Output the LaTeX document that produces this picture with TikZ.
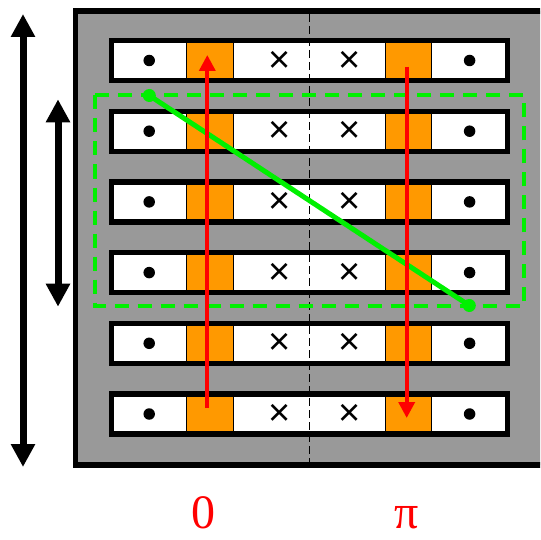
\documentclass[tikz,border=0pt]{standalone}
\usepackage{fontspec}
\newfontfamily\labelfont{Liberation Serif}
\newfontfamily\crossfont{Liberation Sans}
\usetikzlibrary{arrows.meta,positioning}

\definecolor{boxgray}{RGB}{153,153,153}
\definecolor{cellorange}{RGB}{255,153,0}
\definecolor{linegreen}{RGB}{0,240,0}

\begin{document}
\begin{tikzpicture}[x=1pt,y=-1pt,
        cell/.style={draw=black, line width=0.8pt},
        dot/.style={circle, fill=black, inner sep=0pt, minimum size=11.5pt},
        cross/.style={inner sep=0pt, font=\crossfont\fontsize{38}{38}\selectfont},
        greendot/.style={circle, fill=linegreen, inner sep=0pt, minimum size=13pt},
        bigarrow/.style={{Triangle[width=23pt,length=23pt]}-{Triangle[width=23pt,length=23pt]}, line width=7pt},
        phasearrow/.style={-{Triangle[width=16pt,length=16pt]}, red, line width=3.7pt},
        phaselabel/.style={red, inner sep=0pt, font=\labelfont\fontsize{48}{48}\selectfont}]

        \useasboundingbox (0,0) rectangle (540,540);
        \clip (0,0) rectangle (540,540);

        % gray box
        \draw[fill=boxgray, line width=5.5pt] (75.5,11) rectangle (600,465);

        % strips
        \foreach \i in {0,...,5}{
            \pgfmathsetmacro\t{40.5+70.7*\i}
            \pgfmathsetmacro\b{\t+40}
            \pgfmathsetmacro\c{\t+20}
            \fill[white] (111.7,\t) rectangle (507.5,\b);
            \filldraw[cell, fill=cellorange] (186.7,\t) rectangle (233.3,\b);
            \filldraw[cell, fill=cellorange] (385,\t) rectangle (431.7,\b);
            \draw[line width=5.2pt] (111.7,\t) rectangle (507.5,\b);
            \node[dot] (dotL\i) at (149.2,\c) {};
            \node[dot] (dotR\i) at (469.6,\c) {};
            \node[cross] (crossL\i) at (280,\c+1) {×};
            \node[cross] (crossR\i) at (350,\c+1) {×};
        }

        \draw[line width=1.1pt, dash pattern=on 8pt off 4pt] (309.3,14) -- (309.3,462);

        % green window
        \draw[linegreen, line width=4pt, dash pattern=on 14pt off 9pt] (94.5,95.5) rectangle (524.3,305.5);
        \node[greendot] (gA) at (149.3,95.5) {};
        \node[greendot] (gB) at (469.3,305.5) {};
        \draw[linegreen, line width=5pt] (gA.center) -- (gB.center);

        % phase arrows
        \coordinate (zeroStart) at (207.3,408);
        \coordinate (zeroEnd) at (207.3,55);
        \coordinate (piStart) at (406.7,66.7);
        \coordinate (piEnd) at (406.7,418);
        \draw[phasearrow] (zeroStart) -- (zeroEnd);
        \draw[phasearrow] (piStart) -- (piEnd);

        \node[phaselabel] (zeroLabel) at (203,513) {0};
        \node[phaselabel] (piLabel) at (406.7,518) {π};

        % range arrows
        \coordinate (longTop) at (23,14);
        \coordinate (longBot) at (23,467);
        \coordinate (shortTop) at (58,99.3);
        \coordinate (shortBot) at (58,306.7);
        \draw[bigarrow] (longTop) -- (longBot);
        \draw[bigarrow] (shortTop) -- (shortBot);

    \end{tikzpicture}
\end{document}
